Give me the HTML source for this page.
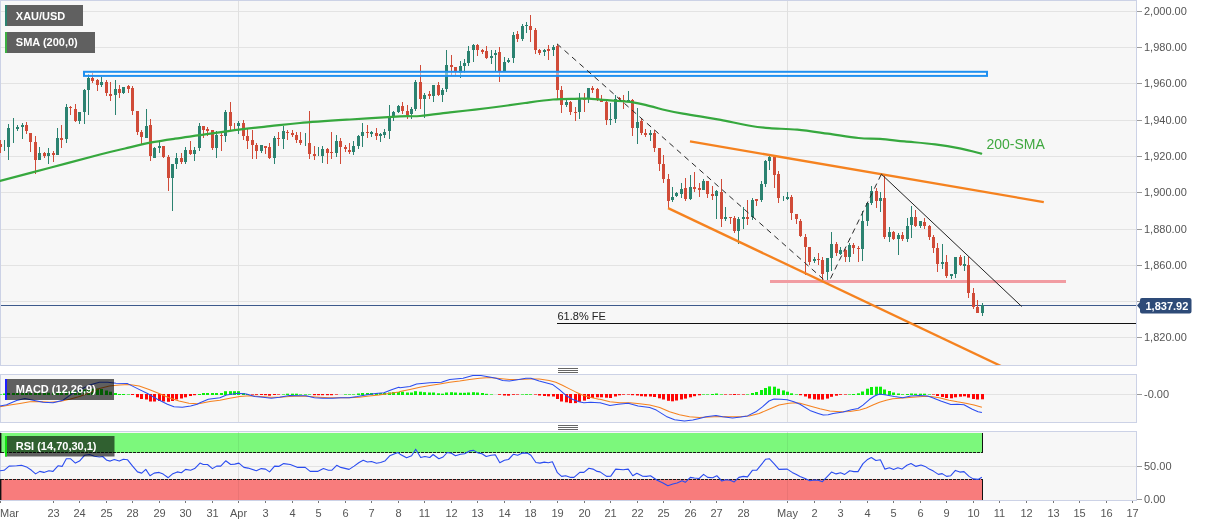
<!DOCTYPE html>
<html><head><meta charset="utf-8"><title>XAU/USD</title>
<style>html,body{margin:0;padding:0;background:#fff}body{width:1207px;height:526px;overflow:hidden}</style>
</head><body>
<svg width="1207" height="526" viewBox="0 0 1207 526" style="display:block;will-change:transform;font-family:'Liberation Sans',Arial,sans-serif">
<rect width="1207" height="526" fill="#fff"/>
<rect x="0.5" y="0.5" width="1136" height="365" fill="#f7f7f7" stroke="#ccd2e6" stroke-width="1"/>
<rect x="0.5" y="374.5" width="1136" height="48" fill="#f7f7f7" stroke="#ccd2e6" stroke-width="1"/>
<rect x="0.5" y="431.5" width="1136" height="69" fill="#f7f7f7" stroke="#ccd2e6" stroke-width="1"/>
<g shape-rendering="crispEdges">
<rect x="1" y="11" width="1135" height="1" fill="#e3e3e3"/>
<rect x="1" y="47" width="1135" height="1" fill="#e3e3e3"/>
<rect x="1" y="83" width="1135" height="1" fill="#e3e3e3"/>
<rect x="1" y="120" width="1135" height="1" fill="#e3e3e3"/>
<rect x="1" y="156" width="1135" height="1" fill="#e3e3e3"/>
<rect x="1" y="192" width="1135" height="1" fill="#e3e3e3"/>
<rect x="1" y="229" width="1135" height="1" fill="#e3e3e3"/>
<rect x="1" y="265" width="1135" height="1" fill="#e3e3e3"/>
<rect x="1" y="301" width="1135" height="1" fill="#e3e3e3"/>
<rect x="1" y="337" width="1135" height="1" fill="#e3e3e3"/>
<rect x="1" y="394" width="1135" height="1" fill="#e3e3e3"/>
<rect x="1" y="466" width="1135" height="1" fill="#e3e3e3"/>
<rect x="238" y="1" width="1" height="364" fill="#e0e0e0"/>
<rect x="238" y="375" width="1" height="47" fill="#e0e0e0"/>
<rect x="238" y="432" width="1" height="68" fill="#e0e0e0"/>
<rect x="787" y="1" width="1" height="364" fill="#e0e0e0"/>
<rect x="787" y="375" width="1" height="47" fill="#e0e0e0"/>
<rect x="787" y="432" width="1" height="68" fill="#e0e0e0"/>
</g>
<clipPath id="c1"><rect x="0" y="1" width="1136" height="364"/></clipPath>
<g clip-path="url(#c1)">
<g shape-rendering="crispEdges">
<rect x="770" y="280" width="296" height="3" fill="#f19ca2"/>
<rect x="1" y="305" width="1135" height="1" fill="#3d5a8c"/>
<rect x="557" y="323" width="579" height="1" fill="#111"/>
</g>
<g shape-rendering="crispEdges">
<rect x="0" y="140" width="1" height="13" fill="#d04b38"/>
<rect x="-1" y="144" width="3" height="3" fill="#d04b38"/>
<rect x="4" y="140" width="1" height="11" fill="#2b8270"/>
<rect x="8" y="124" width="1" height="36" fill="#2b8270"/>
<rect x="7" y="128" width="3" height="19" fill="#2b8270"/>
<rect x="13" y="118" width="1" height="25" fill="#2b8270"/>
<rect x="17" y="125" width="1" height="6" fill="#2b8270"/>
<rect x="16" y="127" width="3" height="2" fill="#2b8270"/>
<rect x="22" y="123" width="1" height="16" fill="#2b8270"/>
<rect x="21" y="125" width="3" height="2" fill="#2b8270"/>
<rect x="26" y="122" width="1" height="12" fill="#d04b38"/>
<rect x="25" y="125" width="3" height="6" fill="#d04b38"/>
<rect x="30" y="133" width="1" height="19" fill="#d04b38"/>
<rect x="29" y="133" width="3" height="9" fill="#d04b38"/>
<rect x="35" y="136" width="1" height="38" fill="#d04b38"/>
<rect x="34" y="142" width="3" height="18" fill="#d04b38"/>
<rect x="39" y="147" width="1" height="13" fill="#2b8270"/>
<rect x="38" y="153" width="3" height="7" fill="#2b8270"/>
<rect x="44" y="152" width="1" height="6" fill="#d04b38"/>
<rect x="43" y="153" width="3" height="3" fill="#d04b38"/>
<rect x="48" y="148" width="1" height="16" fill="#2b8270"/>
<rect x="47" y="153" width="3" height="3" fill="#2b8270"/>
<rect x="53" y="151" width="1" height="11" fill="#d04b38"/>
<rect x="52" y="153" width="3" height="2" fill="#d04b38"/>
<rect x="57" y="128" width="1" height="27" fill="#2b8270"/>
<rect x="56" y="138" width="3" height="17" fill="#2b8270"/>
<rect x="61" y="125" width="1" height="23" fill="#d04b38"/>
<rect x="60" y="138" width="3" height="2" fill="#d04b38"/>
<rect x="66" y="104" width="1" height="39" fill="#2b8270"/>
<rect x="65" y="107" width="3" height="32" fill="#2b8270"/>
<rect x="70" y="106" width="1" height="9" fill="#d04b38"/>
<rect x="69" y="107" width="3" height="1" fill="#d04b38"/>
<rect x="75" y="104" width="1" height="18" fill="#d04b38"/>
<rect x="74" y="109" width="3" height="12" fill="#d04b38"/>
<rect x="79" y="112" width="1" height="12" fill="#2b8270"/>
<rect x="78" y="112" width="3" height="9" fill="#2b8270"/>
<rect x="84" y="89" width="1" height="35" fill="#2b8270"/>
<rect x="83" y="90" width="3" height="22" fill="#2b8270"/>
<rect x="88" y="74" width="1" height="41" fill="#2b8270"/>
<rect x="87" y="78" width="3" height="12" fill="#2b8270"/>
<rect x="92" y="73" width="1" height="10" fill="#d04b38"/>
<rect x="91" y="78" width="3" height="3" fill="#d04b38"/>
<rect x="97" y="79" width="1" height="12" fill="#d04b38"/>
<rect x="96" y="80" width="3" height="5" fill="#d04b38"/>
<rect x="101" y="77" width="1" height="10" fill="#2b8270"/>
<rect x="100" y="82" width="3" height="3" fill="#2b8270"/>
<rect x="106" y="80" width="1" height="16" fill="#d04b38"/>
<rect x="105" y="82" width="3" height="11" fill="#d04b38"/>
<rect x="110" y="82" width="1" height="19" fill="#d04b38"/>
<rect x="109" y="94" width="3" height="2" fill="#d04b38"/>
<rect x="115" y="80" width="1" height="35" fill="#2b8270"/>
<rect x="114" y="89" width="3" height="6" fill="#2b8270"/>
<rect x="119" y="85" width="1" height="13" fill="#d04b38"/>
<rect x="118" y="89" width="3" height="4" fill="#d04b38"/>
<rect x="123" y="87" width="1" height="7" fill="#2b8270"/>
<rect x="122" y="87" width="3" height="6" fill="#2b8270"/>
<rect x="128" y="85" width="1" height="8" fill="#d04b38"/>
<rect x="127" y="86" width="3" height="3" fill="#d04b38"/>
<rect x="132" y="86" width="1" height="29" fill="#d04b38"/>
<rect x="131" y="88" width="3" height="23" fill="#d04b38"/>
<rect x="137" y="111" width="1" height="24" fill="#d04b38"/>
<rect x="136" y="111" width="3" height="21" fill="#d04b38"/>
<rect x="141" y="130" width="1" height="14" fill="#d04b38"/>
<rect x="140" y="132" width="3" height="5" fill="#d04b38"/>
<rect x="146" y="109" width="1" height="29" fill="#2b8270"/>
<rect x="145" y="126" width="3" height="12" fill="#2b8270"/>
<rect x="150" y="119" width="1" height="42" fill="#d04b38"/>
<rect x="149" y="125" width="3" height="31" fill="#d04b38"/>
<rect x="154" y="147" width="1" height="11" fill="#2b8270"/>
<rect x="153" y="148" width="3" height="10" fill="#2b8270"/>
<rect x="159" y="140" width="1" height="13" fill="#2b8270"/>
<rect x="158" y="146" width="3" height="2" fill="#2b8270"/>
<rect x="163" y="146" width="1" height="12" fill="#d04b38"/>
<rect x="162" y="146" width="3" height="11" fill="#d04b38"/>
<rect x="168" y="155" width="1" height="36" fill="#d04b38"/>
<rect x="167" y="157" width="3" height="21" fill="#d04b38"/>
<rect x="172" y="164" width="1" height="47" fill="#2b8270"/>
<rect x="171" y="164" width="3" height="14" fill="#2b8270"/>
<rect x="176" y="153" width="1" height="16" fill="#2b8270"/>
<rect x="175" y="158" width="3" height="6" fill="#2b8270"/>
<rect x="181" y="153" width="1" height="11" fill="#d04b38"/>
<rect x="180" y="158" width="3" height="4" fill="#d04b38"/>
<rect x="185" y="147" width="1" height="17" fill="#2b8270"/>
<rect x="184" y="150" width="3" height="12" fill="#2b8270"/>
<rect x="190" y="141" width="1" height="14" fill="#d04b38"/>
<rect x="189" y="150" width="3" height="4" fill="#d04b38"/>
<rect x="194" y="147" width="1" height="14" fill="#2b8270"/>
<rect x="193" y="150" width="3" height="4" fill="#2b8270"/>
<rect x="199" y="123" width="1" height="28" fill="#2b8270"/>
<rect x="198" y="126" width="3" height="22" fill="#2b8270"/>
<rect x="203" y="126" width="1" height="12" fill="#d04b38"/>
<rect x="202" y="126" width="3" height="4" fill="#d04b38"/>
<rect x="207" y="127" width="1" height="9" fill="#d04b38"/>
<rect x="206" y="129" width="3" height="2" fill="#d04b38"/>
<rect x="212" y="130" width="1" height="20" fill="#d04b38"/>
<rect x="211" y="130" width="3" height="18" fill="#d04b38"/>
<rect x="216" y="131" width="1" height="27" fill="#2b8270"/>
<rect x="215" y="135" width="3" height="13" fill="#2b8270"/>
<rect x="221" y="133" width="1" height="18" fill="#d04b38"/>
<rect x="220" y="135" width="3" height="1" fill="#d04b38"/>
<rect x="225" y="110" width="1" height="32" fill="#2b8270"/>
<rect x="224" y="112" width="3" height="24" fill="#2b8270"/>
<rect x="230" y="102" width="1" height="28" fill="#d04b38"/>
<rect x="229" y="112" width="3" height="14" fill="#d04b38"/>
<rect x="234" y="123" width="1" height="7" fill="#d04b38"/>
<rect x="238" y="121" width="1" height="13" fill="#2b8270"/>
<rect x="237" y="123" width="3" height="3" fill="#2b8270"/>
<rect x="243" y="120" width="1" height="20" fill="#d04b38"/>
<rect x="242" y="123" width="3" height="13" fill="#d04b38"/>
<rect x="247" y="129" width="1" height="20" fill="#d04b38"/>
<rect x="246" y="136" width="3" height="5" fill="#d04b38"/>
<rect x="252" y="130" width="1" height="29" fill="#d04b38"/>
<rect x="251" y="140" width="3" height="5" fill="#d04b38"/>
<rect x="256" y="143" width="1" height="16" fill="#d04b38"/>
<rect x="255" y="145" width="3" height="6" fill="#d04b38"/>
<rect x="261" y="145" width="1" height="8" fill="#2b8270"/>
<rect x="260" y="145" width="3" height="6" fill="#2b8270"/>
<rect x="265" y="146" width="1" height="8" fill="#d04b38"/>
<rect x="264" y="146" width="3" height="2" fill="#d04b38"/>
<rect x="269" y="143" width="1" height="16" fill="#d04b38"/>
<rect x="268" y="147" width="3" height="11" fill="#d04b38"/>
<rect x="274" y="136" width="1" height="28" fill="#2b8270"/>
<rect x="273" y="138" width="3" height="20" fill="#2b8270"/>
<rect x="278" y="132" width="1" height="14" fill="#d04b38"/>
<rect x="277" y="138" width="3" height="1" fill="#d04b38"/>
<rect x="283" y="126" width="1" height="23" fill="#2b8270"/>
<rect x="282" y="131" width="3" height="8" fill="#2b8270"/>
<rect x="287" y="130" width="1" height="10" fill="#d04b38"/>
<rect x="286" y="132" width="3" height="1" fill="#d04b38"/>
<rect x="292" y="130" width="1" height="7" fill="#d04b38"/>
<rect x="291" y="133" width="3" height="2" fill="#d04b38"/>
<rect x="296" y="132" width="1" height="11" fill="#d04b38"/>
<rect x="295" y="135" width="3" height="5" fill="#d04b38"/>
<rect x="300" y="132" width="1" height="13" fill="#d04b38"/>
<rect x="299" y="140" width="3" height="3" fill="#d04b38"/>
<rect x="305" y="133" width="1" height="13" fill="#2b8270"/>
<rect x="309" y="111" width="1" height="48" fill="#d04b38"/>
<rect x="308" y="143" width="3" height="11" fill="#d04b38"/>
<rect x="314" y="146" width="1" height="14" fill="#d04b38"/>
<rect x="313" y="154" width="3" height="2" fill="#d04b38"/>
<rect x="318" y="147" width="1" height="9" fill="#2b8270"/>
<rect x="322" y="146" width="1" height="17" fill="#2b8270"/>
<rect x="321" y="149" width="3" height="7" fill="#2b8270"/>
<rect x="327" y="148" width="1" height="16" fill="#d04b38"/>
<rect x="326" y="149" width="3" height="4" fill="#d04b38"/>
<rect x="331" y="132" width="1" height="27" fill="#d04b38"/>
<rect x="330" y="152" width="3" height="1" fill="#d04b38"/>
<rect x="336" y="135" width="1" height="22" fill="#2b8270"/>
<rect x="335" y="141" width="3" height="12" fill="#2b8270"/>
<rect x="340" y="138" width="1" height="26" fill="#d04b38"/>
<rect x="339" y="141" width="3" height="6" fill="#d04b38"/>
<rect x="345" y="145" width="1" height="7" fill="#d04b38"/>
<rect x="344" y="147" width="3" height="2" fill="#d04b38"/>
<rect x="349" y="143" width="1" height="11" fill="#d04b38"/>
<rect x="348" y="150" width="3" height="2" fill="#d04b38"/>
<rect x="353" y="141" width="1" height="14" fill="#2b8270"/>
<rect x="352" y="146" width="3" height="6" fill="#2b8270"/>
<rect x="358" y="135" width="1" height="14" fill="#2b8270"/>
<rect x="357" y="136" width="3" height="10" fill="#2b8270"/>
<rect x="362" y="123" width="1" height="24" fill="#2b8270"/>
<rect x="361" y="132" width="3" height="4" fill="#2b8270"/>
<rect x="367" y="125" width="1" height="13" fill="#d04b38"/>
<rect x="366" y="132" width="3" height="1" fill="#d04b38"/>
<rect x="371" y="131" width="1" height="6" fill="#2b8270"/>
<rect x="370" y="132" width="3" height="2" fill="#2b8270"/>
<rect x="376" y="128" width="1" height="12" fill="#d04b38"/>
<rect x="375" y="133" width="3" height="3" fill="#d04b38"/>
<rect x="380" y="133" width="1" height="9" fill="#2b8270"/>
<rect x="379" y="134" width="3" height="2" fill="#2b8270"/>
<rect x="384" y="129" width="1" height="9" fill="#2b8270"/>
<rect x="383" y="132" width="3" height="3" fill="#2b8270"/>
<rect x="389" y="105" width="1" height="34" fill="#2b8270"/>
<rect x="388" y="116" width="3" height="15" fill="#2b8270"/>
<rect x="393" y="111" width="1" height="10" fill="#2b8270"/>
<rect x="392" y="112" width="3" height="4" fill="#2b8270"/>
<rect x="398" y="105" width="1" height="8" fill="#2b8270"/>
<rect x="397" y="106" width="3" height="6" fill="#2b8270"/>
<rect x="402" y="102" width="1" height="12" fill="#d04b38"/>
<rect x="401" y="106" width="3" height="5" fill="#d04b38"/>
<rect x="407" y="105" width="1" height="14" fill="#d04b38"/>
<rect x="406" y="111" width="3" height="4" fill="#d04b38"/>
<rect x="411" y="107" width="1" height="12" fill="#2b8270"/>
<rect x="410" y="109" width="3" height="5" fill="#2b8270"/>
<rect x="415" y="80" width="1" height="31" fill="#2b8270"/>
<rect x="414" y="82" width="3" height="27" fill="#2b8270"/>
<rect x="420" y="65" width="1" height="44" fill="#d04b38"/>
<rect x="419" y="82" width="3" height="17" fill="#d04b38"/>
<rect x="424" y="93" width="1" height="25" fill="#2b8270"/>
<rect x="423" y="95" width="3" height="4" fill="#2b8270"/>
<rect x="429" y="91" width="1" height="8" fill="#d04b38"/>
<rect x="428" y="94" width="3" height="2" fill="#d04b38"/>
<rect x="433" y="85" width="1" height="17" fill="#2b8270"/>
<rect x="432" y="85" width="3" height="11" fill="#2b8270"/>
<rect x="438" y="82" width="1" height="14" fill="#d04b38"/>
<rect x="437" y="85" width="3" height="10" fill="#d04b38"/>
<rect x="442" y="88" width="1" height="14" fill="#2b8270"/>
<rect x="441" y="90" width="3" height="5" fill="#2b8270"/>
<rect x="446" y="50" width="1" height="42" fill="#2b8270"/>
<rect x="445" y="65" width="3" height="24" fill="#2b8270"/>
<rect x="451" y="55" width="1" height="20" fill="#d04b38"/>
<rect x="450" y="65" width="3" height="2" fill="#d04b38"/>
<rect x="455" y="67" width="1" height="8" fill="#d04b38"/>
<rect x="454" y="67" width="3" height="4" fill="#d04b38"/>
<rect x="460" y="61" width="1" height="17" fill="#2b8270"/>
<rect x="459" y="66" width="3" height="7" fill="#2b8270"/>
<rect x="464" y="59" width="1" height="14" fill="#2b8270"/>
<rect x="463" y="63" width="3" height="3" fill="#2b8270"/>
<rect x="468" y="46" width="1" height="20" fill="#2b8270"/>
<rect x="467" y="51" width="3" height="12" fill="#2b8270"/>
<rect x="473" y="44" width="1" height="18" fill="#2b8270"/>
<rect x="472" y="45" width="3" height="5" fill="#2b8270"/>
<rect x="477" y="44" width="1" height="12" fill="#d04b38"/>
<rect x="476" y="45" width="3" height="5" fill="#d04b38"/>
<rect x="482" y="49" width="1" height="5" fill="#d04b38"/>
<rect x="481" y="50" width="3" height="2" fill="#d04b38"/>
<rect x="486" y="46" width="1" height="13" fill="#d04b38"/>
<rect x="485" y="51" width="3" height="7" fill="#d04b38"/>
<rect x="491" y="50" width="1" height="14" fill="#2b8270"/>
<rect x="490" y="56" width="3" height="2" fill="#2b8270"/>
<rect x="495" y="50" width="1" height="21" fill="#2b8270"/>
<rect x="494" y="53" width="3" height="2" fill="#2b8270"/>
<rect x="499" y="47" width="1" height="35" fill="#d04b38"/>
<rect x="498" y="52" width="3" height="19" fill="#d04b38"/>
<rect x="504" y="57" width="1" height="14" fill="#2b8270"/>
<rect x="503" y="62" width="3" height="9" fill="#2b8270"/>
<rect x="508" y="58" width="1" height="5" fill="#2b8270"/>
<rect x="507" y="60" width="3" height="2" fill="#2b8270"/>
<rect x="513" y="32" width="1" height="31" fill="#2b8270"/>
<rect x="512" y="35" width="3" height="23" fill="#2b8270"/>
<rect x="517" y="31" width="1" height="11" fill="#d04b38"/>
<rect x="516" y="34" width="3" height="5" fill="#d04b38"/>
<rect x="522" y="24" width="1" height="17" fill="#2b8270"/>
<rect x="521" y="26" width="3" height="13" fill="#2b8270"/>
<rect x="526" y="22" width="1" height="11" fill="#2b8270"/>
<rect x="525" y="25" width="3" height="1" fill="#2b8270"/>
<rect x="530" y="15" width="1" height="27" fill="#d04b38"/>
<rect x="529" y="26" width="3" height="4" fill="#d04b38"/>
<rect x="535" y="28" width="1" height="26" fill="#d04b38"/>
<rect x="534" y="30" width="3" height="20" fill="#d04b38"/>
<rect x="539" y="49" width="1" height="6" fill="#d04b38"/>
<rect x="538" y="50" width="3" height="3" fill="#d04b38"/>
<rect x="544" y="49" width="1" height="7" fill="#2b8270"/>
<rect x="543" y="50" width="3" height="2" fill="#2b8270"/>
<rect x="548" y="45" width="1" height="15" fill="#d04b38"/>
<rect x="547" y="49" width="3" height="2" fill="#d04b38"/>
<rect x="553" y="45" width="1" height="11" fill="#2b8270"/>
<rect x="552" y="47" width="3" height="3" fill="#2b8270"/>
<rect x="557" y="44" width="1" height="56" fill="#d04b38"/>
<rect x="556" y="46" width="3" height="44" fill="#d04b38"/>
<rect x="561" y="86" width="1" height="27" fill="#d04b38"/>
<rect x="560" y="90" width="3" height="15" fill="#d04b38"/>
<rect x="566" y="100" width="1" height="7" fill="#2b8270"/>
<rect x="565" y="102" width="3" height="3" fill="#2b8270"/>
<rect x="570" y="101" width="1" height="14" fill="#d04b38"/>
<rect x="569" y="102" width="3" height="10" fill="#d04b38"/>
<rect x="575" y="107" width="1" height="14" fill="#d04b38"/>
<rect x="574" y="112" width="3" height="1" fill="#d04b38"/>
<rect x="579" y="93" width="1" height="26" fill="#2b8270"/>
<rect x="578" y="98" width="3" height="14" fill="#2b8270"/>
<rect x="584" y="93" width="1" height="19" fill="#d04b38"/>
<rect x="583" y="98" width="3" height="2" fill="#d04b38"/>
<rect x="588" y="88" width="1" height="15" fill="#2b8270"/>
<rect x="587" y="88" width="3" height="11" fill="#2b8270"/>
<rect x="592" y="86" width="1" height="7" fill="#d04b38"/>
<rect x="591" y="88" width="3" height="2" fill="#d04b38"/>
<rect x="597" y="88" width="1" height="13" fill="#d04b38"/>
<rect x="596" y="89" width="3" height="10" fill="#d04b38"/>
<rect x="601" y="95" width="1" height="7" fill="#d04b38"/>
<rect x="600" y="100" width="3" height="2" fill="#d04b38"/>
<rect x="606" y="101" width="1" height="24" fill="#d04b38"/>
<rect x="605" y="102" width="3" height="18" fill="#d04b38"/>
<rect x="610" y="103" width="1" height="22" fill="#2b8270"/>
<rect x="609" y="119" width="3" height="1" fill="#2b8270"/>
<rect x="615" y="95" width="1" height="28" fill="#2b8270"/>
<rect x="614" y="99" width="3" height="20" fill="#2b8270"/>
<rect x="619" y="97" width="1" height="4" fill="#d04b38"/>
<rect x="618" y="98" width="3" height="1" fill="#d04b38"/>
<rect x="623" y="95" width="1" height="14" fill="#d04b38"/>
<rect x="622" y="100" width="3" height="1" fill="#d04b38"/>
<rect x="628" y="91" width="1" height="11" fill="#2b8270"/>
<rect x="627" y="100" width="3" height="1" fill="#2b8270"/>
<rect x="632" y="99" width="1" height="37" fill="#d04b38"/>
<rect x="631" y="100" width="3" height="28" fill="#d04b38"/>
<rect x="637" y="108" width="1" height="36" fill="#2b8270"/>
<rect x="636" y="122" width="3" height="6" fill="#2b8270"/>
<rect x="641" y="119" width="1" height="16" fill="#d04b38"/>
<rect x="640" y="121" width="3" height="12" fill="#d04b38"/>
<rect x="645" y="129" width="1" height="8" fill="#d04b38"/>
<rect x="644" y="133" width="3" height="2" fill="#d04b38"/>
<rect x="650" y="130" width="1" height="11" fill="#2b8270"/>
<rect x="649" y="133" width="3" height="2" fill="#2b8270"/>
<rect x="654" y="130" width="1" height="22" fill="#d04b38"/>
<rect x="653" y="133" width="3" height="15" fill="#d04b38"/>
<rect x="659" y="148" width="1" height="23" fill="#d04b38"/>
<rect x="658" y="148" width="3" height="16" fill="#d04b38"/>
<rect x="663" y="155" width="1" height="28" fill="#d04b38"/>
<rect x="662" y="164" width="3" height="15" fill="#d04b38"/>
<rect x="668" y="174" width="1" height="34" fill="#d04b38"/>
<rect x="667" y="179" width="3" height="22" fill="#d04b38"/>
<rect x="672" y="187" width="1" height="15" fill="#2b8270"/>
<rect x="671" y="197" width="3" height="3" fill="#2b8270"/>
<rect x="676" y="192" width="1" height="5" fill="#2b8270"/>
<rect x="675" y="193" width="3" height="3" fill="#2b8270"/>
<rect x="681" y="183" width="1" height="15" fill="#2b8270"/>
<rect x="680" y="189" width="3" height="5" fill="#2b8270"/>
<rect x="685" y="178" width="1" height="23" fill="#d04b38"/>
<rect x="684" y="188" width="3" height="11" fill="#d04b38"/>
<rect x="690" y="175" width="1" height="25" fill="#2b8270"/>
<rect x="689" y="187" width="3" height="12" fill="#2b8270"/>
<rect x="694" y="172" width="1" height="20" fill="#d04b38"/>
<rect x="693" y="187" width="3" height="2" fill="#d04b38"/>
<rect x="699" y="183" width="1" height="14" fill="#d04b38"/>
<rect x="698" y="188" width="3" height="2" fill="#d04b38"/>
<rect x="703" y="179" width="1" height="11" fill="#2b8270"/>
<rect x="702" y="181" width="3" height="9" fill="#2b8270"/>
<rect x="707" y="181" width="1" height="17" fill="#d04b38"/>
<rect x="706" y="181" width="3" height="13" fill="#d04b38"/>
<rect x="712" y="186" width="1" height="14" fill="#d04b38"/>
<rect x="711" y="194" width="3" height="2" fill="#d04b38"/>
<rect x="716" y="190" width="1" height="29" fill="#2b8270"/>
<rect x="715" y="191" width="3" height="5" fill="#2b8270"/>
<rect x="721" y="179" width="1" height="48" fill="#d04b38"/>
<rect x="720" y="192" width="3" height="27" fill="#d04b38"/>
<rect x="725" y="207" width="1" height="14" fill="#2b8270"/>
<rect x="724" y="217" width="3" height="2" fill="#2b8270"/>
<rect x="730" y="217" width="1" height="7" fill="#d04b38"/>
<rect x="729" y="217" width="3" height="1" fill="#d04b38"/>
<rect x="734" y="216" width="1" height="17" fill="#d04b38"/>
<rect x="733" y="218" width="3" height="13" fill="#d04b38"/>
<rect x="738" y="217" width="1" height="27" fill="#2b8270"/>
<rect x="737" y="219" width="3" height="12" fill="#2b8270"/>
<rect x="743" y="207" width="1" height="22" fill="#2b8270"/>
<rect x="742" y="217" width="3" height="2" fill="#2b8270"/>
<rect x="747" y="200" width="1" height="25" fill="#d04b38"/>
<rect x="746" y="217" width="3" height="2" fill="#d04b38"/>
<rect x="752" y="198" width="1" height="22" fill="#2b8270"/>
<rect x="751" y="200" width="3" height="17" fill="#2b8270"/>
<rect x="756" y="199" width="1" height="7" fill="#d04b38"/>
<rect x="755" y="199" width="3" height="2" fill="#d04b38"/>
<rect x="761" y="181" width="1" height="21" fill="#2b8270"/>
<rect x="760" y="184" width="3" height="16" fill="#2b8270"/>
<rect x="765" y="160" width="1" height="27" fill="#2b8270"/>
<rect x="764" y="161" width="3" height="23" fill="#2b8270"/>
<rect x="769" y="156" width="1" height="14" fill="#2b8270"/>
<rect x="768" y="157" width="3" height="4" fill="#2b8270"/>
<rect x="774" y="157" width="1" height="31" fill="#d04b38"/>
<rect x="773" y="157" width="3" height="18" fill="#d04b38"/>
<rect x="778" y="171" width="1" height="32" fill="#d04b38"/>
<rect x="777" y="174" width="3" height="24" fill="#d04b38"/>
<rect x="783" y="196" width="1" height="5" fill="#2b8270"/>
<rect x="787" y="192" width="1" height="8" fill="#2b8270"/>
<rect x="786" y="197" width="3" height="2" fill="#2b8270"/>
<rect x="791" y="195" width="1" height="25" fill="#d04b38"/>
<rect x="790" y="197" width="3" height="16" fill="#d04b38"/>
<rect x="796" y="214" width="1" height="10" fill="#d04b38"/>
<rect x="795" y="214" width="3" height="5" fill="#d04b38"/>
<rect x="800" y="219" width="1" height="18" fill="#d04b38"/>
<rect x="799" y="221" width="3" height="15" fill="#d04b38"/>
<rect x="805" y="234" width="1" height="41" fill="#d04b38"/>
<rect x="804" y="237" width="3" height="10" fill="#d04b38"/>
<rect x="809" y="247" width="1" height="18" fill="#d04b38"/>
<rect x="808" y="247" width="3" height="15" fill="#d04b38"/>
<rect x="814" y="257" width="1" height="6" fill="#2b8270"/>
<rect x="813" y="259" width="3" height="2" fill="#2b8270"/>
<rect x="818" y="253" width="1" height="12" fill="#d04b38"/>
<rect x="817" y="259" width="3" height="1" fill="#d04b38"/>
<rect x="822" y="257" width="1" height="23" fill="#d04b38"/>
<rect x="821" y="260" width="3" height="14" fill="#d04b38"/>
<rect x="827" y="258" width="1" height="22" fill="#2b8270"/>
<rect x="826" y="258" width="3" height="14" fill="#2b8270"/>
<rect x="831" y="232" width="1" height="39" fill="#2b8270"/>
<rect x="830" y="244" width="3" height="14" fill="#2b8270"/>
<rect x="836" y="242" width="1" height="14" fill="#d04b38"/>
<rect x="835" y="244" width="3" height="9" fill="#d04b38"/>
<rect x="840" y="247" width="1" height="8" fill="#2b8270"/>
<rect x="839" y="250" width="3" height="4" fill="#2b8270"/>
<rect x="845" y="249" width="1" height="13" fill="#d04b38"/>
<rect x="844" y="250" width="3" height="7" fill="#d04b38"/>
<rect x="849" y="243" width="1" height="19" fill="#2b8270"/>
<rect x="848" y="245" width="3" height="12" fill="#2b8270"/>
<rect x="853" y="243" width="1" height="11" fill="#d04b38"/>
<rect x="852" y="245" width="3" height="3" fill="#d04b38"/>
<rect x="858" y="246" width="1" height="16" fill="#d04b38"/>
<rect x="857" y="248" width="3" height="1" fill="#d04b38"/>
<rect x="862" y="211" width="1" height="50" fill="#2b8270"/>
<rect x="861" y="221" width="3" height="28" fill="#2b8270"/>
<rect x="867" y="203" width="1" height="23" fill="#2b8270"/>
<rect x="866" y="203" width="3" height="18" fill="#2b8270"/>
<rect x="871" y="186" width="1" height="19" fill="#2b8270"/>
<rect x="870" y="191" width="3" height="12" fill="#2b8270"/>
<rect x="876" y="188" width="1" height="20" fill="#d04b38"/>
<rect x="875" y="191" width="3" height="10" fill="#d04b38"/>
<rect x="880" y="192" width="1" height="20" fill="#2b8270"/>
<rect x="879" y="198" width="3" height="3" fill="#2b8270"/>
<rect x="884" y="175" width="1" height="64" fill="#d04b38"/>
<rect x="883" y="198" width="3" height="39" fill="#d04b38"/>
<rect x="889" y="227" width="1" height="15" fill="#2b8270"/>
<rect x="888" y="232" width="3" height="5" fill="#2b8270"/>
<rect x="893" y="231" width="1" height="9" fill="#d04b38"/>
<rect x="892" y="232" width="3" height="7" fill="#d04b38"/>
<rect x="898" y="233" width="1" height="22" fill="#2b8270"/>
<rect x="897" y="235" width="3" height="4" fill="#2b8270"/>
<rect x="902" y="232" width="1" height="9" fill="#d04b38"/>
<rect x="901" y="235" width="3" height="4" fill="#d04b38"/>
<rect x="907" y="218" width="1" height="24" fill="#2b8270"/>
<rect x="906" y="226" width="3" height="13" fill="#2b8270"/>
<rect x="911" y="206" width="1" height="32" fill="#2b8270"/>
<rect x="910" y="217" width="3" height="8" fill="#2b8270"/>
<rect x="915" y="210" width="1" height="17" fill="#d04b38"/>
<rect x="914" y="217" width="3" height="9" fill="#d04b38"/>
<rect x="920" y="221" width="1" height="7" fill="#2b8270"/>
<rect x="919" y="221" width="3" height="5" fill="#2b8270"/>
<rect x="924" y="218" width="1" height="11" fill="#d04b38"/>
<rect x="923" y="222" width="3" height="4" fill="#d04b38"/>
<rect x="929" y="225" width="1" height="15" fill="#d04b38"/>
<rect x="928" y="226" width="3" height="11" fill="#d04b38"/>
<rect x="933" y="235" width="1" height="18" fill="#d04b38"/>
<rect x="932" y="237" width="3" height="11" fill="#d04b38"/>
<rect x="937" y="243" width="1" height="29" fill="#d04b38"/>
<rect x="936" y="248" width="3" height="16" fill="#d04b38"/>
<rect x="942" y="244" width="1" height="25" fill="#2b8270"/>
<rect x="941" y="262" width="3" height="2" fill="#2b8270"/>
<rect x="946" y="255" width="1" height="23" fill="#d04b38"/>
<rect x="945" y="262" width="3" height="14" fill="#d04b38"/>
<rect x="951" y="274" width="1" height="5" fill="#2b8270"/>
<rect x="950" y="274" width="3" height="2" fill="#2b8270"/>
<rect x="955" y="257" width="1" height="21" fill="#2b8270"/>
<rect x="954" y="257" width="3" height="17" fill="#2b8270"/>
<rect x="960" y="255" width="1" height="11" fill="#d04b38"/>
<rect x="959" y="257" width="3" height="8" fill="#d04b38"/>
<rect x="964" y="256" width="1" height="15" fill="#2b8270"/>
<rect x="963" y="264" width="3" height="2" fill="#2b8270"/>
<rect x="968" y="257" width="1" height="41" fill="#d04b38"/>
<rect x="967" y="265" width="3" height="28" fill="#d04b38"/>
<rect x="973" y="288" width="1" height="21" fill="#d04b38"/>
<rect x="972" y="293" width="3" height="14" fill="#d04b38"/>
<rect x="977" y="300" width="1" height="13" fill="#d04b38"/>
<rect x="976" y="307" width="3" height="6" fill="#d04b38"/>
<rect x="982" y="303" width="1" height="13" fill="#2b8270"/>
<rect x="981" y="305" width="3" height="8" fill="#2b8270"/>
</g>
<path d="M0.0 181.0 C8.3 178.8 33.3 172.1 50.0 167.7 C66.7 163.3 87.5 157.7 100.0 154.5 C112.5 151.3 116.7 150.5 125.0 148.5 C133.3 146.5 141.7 144.3 150.0 142.7 C158.3 141.1 166.7 139.9 175.0 138.7 C183.3 137.4 189.3 136.7 200.0 135.2 C210.7 133.7 227.3 131.2 239.0 129.7 C250.7 128.2 259.8 127.3 270.0 126.2 C280.2 125.1 286.7 124.1 300.0 123.0 C313.3 121.9 333.3 120.6 350.0 119.5 C366.7 118.4 388.3 117.0 400.0 116.4 C411.7 115.8 411.7 116.7 420.0 116.0 C428.3 115.3 440.8 113.5 450.0 112.4 C459.2 111.3 466.7 110.6 475.0 109.6 C483.3 108.6 491.7 107.6 500.0 106.5 C508.3 105.4 516.2 104.2 525.0 103.0 C533.8 101.8 544.7 100.2 553.0 99.5 C561.3 98.8 569.0 98.9 575.0 98.8 C581.0 98.7 583.2 98.4 589.0 98.7 C594.8 99.0 602.7 99.8 610.0 100.4 C617.3 101.0 626.3 101.3 633.0 102.3 C639.7 103.2 644.5 104.8 650.0 106.1 C655.5 107.4 660.5 109.0 666.0 110.3 C671.5 111.5 677.3 112.6 683.0 113.6 C688.7 114.6 693.7 115.4 700.0 116.4 C706.3 117.5 712.2 118.3 720.7 119.9 C729.2 121.5 743.1 124.6 751.3 126.0 C759.5 127.4 762.0 127.6 769.7 128.2 C777.4 128.8 787.6 128.8 797.3 129.7 C807.0 130.6 817.8 132.3 828.0 133.7 C838.2 135.1 849.9 137.1 858.6 138.0 C867.3 138.9 872.3 138.3 880.0 138.9 C887.7 139.5 895.4 140.5 904.6 141.4 C913.8 142.3 926.0 143.2 935.2 144.4 C944.4 145.6 952.1 146.9 959.8 148.4 C967.5 149.9 977.6 152.7 981.2 153.6" fill="none" stroke="#36a83e" stroke-width="2.2" stroke-linecap="round"/>
<rect x="84" y="71.8" width="903" height="4.1" fill="#ffffff" fill-opacity="0.5" stroke="#2090f0" stroke-width="2"/>
<line x1="690" y1="141.4" x2="1043.8" y2="202.1" stroke="#f5821f" stroke-width="2.3"/>
<line x1="668.1" y1="208.1" x2="1002" y2="366.53554999999994" stroke="#f5821f" stroke-width="2.3"/>
<line x1="557" y1="43.8" x2="823.5" y2="279.3" stroke="#2a2a2a" stroke-width="1.0" stroke-dasharray="5.6 4.4"/>
<line x1="830.5" y1="278.5" x2="881.2" y2="174.5" stroke="#2a2a2a" stroke-width="1.0" stroke-dasharray="5.6 4.4"/>
<line x1="881.2" y1="174" x2="1021.7" y2="306.5" stroke="#222" stroke-width="1"/>
<text x="557.5" y="320" font-size="11" fill="#222">61.8% FE</text>
<text x="986.5" y="149.2" font-size="14" fill="#3fa83f">200-SMA</text>
</g>
<clipPath id="c2"><rect x="0" y="375" width="1136" height="47"/></clipPath>
<g clip-path="url(#c2)">
<g>
<rect x="-1" y="394.4" width="3" height="0.6" fill="#0aee0a"/>
<rect x="3" y="393.5" width="3" height="1.5" fill="#0aee0a"/>
<rect x="7" y="393.0" width="3" height="2.0" fill="#0aee0a"/>
<rect x="12" y="393.0" width="3" height="2.0" fill="#0aee0a"/>
<rect x="16" y="393.0" width="3" height="2.0" fill="#0aee0a"/>
<rect x="21" y="393.0" width="3" height="2.0" fill="#0aee0a"/>
<rect x="25" y="393.0" width="3" height="2.0" fill="#0aee0a"/>
<rect x="29" y="393.0" width="3" height="2.0" fill="#0aee0a"/>
<rect x="34" y="393.0" width="3" height="2.0" fill="#0aee0a"/>
<rect x="38" y="393.0" width="3" height="2.0" fill="#0aee0a"/>
<rect x="43" y="393.0" width="3" height="2.0" fill="#0aee0a"/>
<rect x="47" y="392.8" width="3" height="2.2" fill="#0aee0a"/>
<rect x="52" y="392.5" width="3" height="2.5" fill="#0aee0a"/>
<rect x="56" y="392.0" width="3" height="3.0" fill="#0aee0a"/>
<rect x="60" y="391.5" width="3" height="3.5" fill="#0aee0a"/>
<rect x="65" y="391.2" width="3" height="3.8" fill="#0aee0a"/>
<rect x="69" y="391.0" width="3" height="4.0" fill="#0aee0a"/>
<rect x="74" y="390.5" width="3" height="4.5" fill="#0aee0a"/>
<rect x="78" y="390.0" width="3" height="5.0" fill="#0aee0a"/>
<rect x="83" y="389.5" width="3" height="5.5" fill="#0aee0a"/>
<rect x="87" y="389.0" width="3" height="6.0" fill="#0aee0a"/>
<rect x="91" y="388.7" width="3" height="6.3" fill="#0aee0a"/>
<rect x="96" y="388.5" width="3" height="6.5" fill="#0aee0a"/>
<rect x="100" y="389.0" width="3" height="6.0" fill="#0aee0a"/>
<rect x="105" y="390.5" width="3" height="4.5" fill="#0aee0a"/>
<rect x="109" y="391.7" width="3" height="3.3" fill="#0aee0a"/>
<rect x="114" y="393.0" width="3" height="2.0" fill="#0aee0a"/>
<rect x="118" y="394.0" width="3" height="1.0" fill="#0aee0a"/>
<rect x="122" y="394.0" width="3" height="1.0" fill="#0aee0a"/>
<rect x="127" y="394.4" width="3" height="0.6" fill="#0aee0a"/>
<rect x="131" y="394" width="3" height="1.0" fill="#ff0505"/>
<rect x="136" y="394" width="3" height="3.3" fill="#ff0505"/>
<rect x="140" y="394" width="3" height="5.0" fill="#ff0505"/>
<rect x="145" y="394" width="3" height="5.5" fill="#ff0505"/>
<rect x="149" y="394" width="3" height="7.5" fill="#ff0505"/>
<rect x="153" y="394" width="3" height="7.5" fill="#ff0505"/>
<rect x="158" y="394" width="3" height="7.0" fill="#ff0505"/>
<rect x="162" y="394" width="3" height="7.5" fill="#ff0505"/>
<rect x="167" y="394" width="3" height="7.8" fill="#ff0505"/>
<rect x="171" y="394" width="3" height="7.0" fill="#ff0505"/>
<rect x="175" y="394" width="3" height="5.5" fill="#ff0505"/>
<rect x="180" y="394" width="3" height="4.5" fill="#ff0505"/>
<rect x="184" y="394" width="3" height="3.3" fill="#ff0505"/>
<rect x="189" y="394" width="3" height="2.0" fill="#ff0505"/>
<rect x="193" y="394" width="3" height="1.2" fill="#ff0505"/>
<rect x="198" y="394.0" width="3" height="1.0" fill="#0aee0a"/>
<rect x="202" y="393.0" width="3" height="2.0" fill="#0aee0a"/>
<rect x="206" y="393.0" width="3" height="2.0" fill="#0aee0a"/>
<rect x="211" y="393.0" width="3" height="2.0" fill="#0aee0a"/>
<rect x="215" y="393.0" width="3" height="2.0" fill="#0aee0a"/>
<rect x="220" y="393.0" width="3" height="2.0" fill="#0aee0a"/>
<rect x="224" y="391.2" width="3" height="3.8" fill="#0aee0a"/>
<rect x="229" y="391.2" width="3" height="3.8" fill="#0aee0a"/>
<rect x="233" y="391.2" width="3" height="3.8" fill="#0aee0a"/>
<rect x="237" y="391.2" width="3" height="3.8" fill="#0aee0a"/>
<rect x="242" y="393.0" width="3" height="2.0" fill="#0aee0a"/>
<rect x="246" y="394.0" width="3" height="1.0" fill="#0aee0a"/>
<rect x="251" y="394" width="3" height="0.6" fill="#ff0505"/>
<rect x="255" y="394" width="3" height="0.8" fill="#ff0505"/>
<rect x="260" y="394" width="3" height="1.0" fill="#ff0505"/>
<rect x="264" y="394" width="3" height="1.2" fill="#ff0505"/>
<rect x="268" y="394" width="3" height="1.7" fill="#ff0505"/>
<rect x="273" y="394" width="3" height="1.0" fill="#ff0505"/>
<rect x="277" y="394" width="3" height="0.6" fill="#ff0505"/>
<rect x="282" y="394.4" width="3" height="0.6" fill="#0aee0a"/>
<rect x="286" y="393.7" width="3" height="1.3" fill="#0aee0a"/>
<rect x="291" y="393.7" width="3" height="1.3" fill="#0aee0a"/>
<rect x="295" y="393.7" width="3" height="1.3" fill="#0aee0a"/>
<rect x="299" y="394.4" width="3" height="0.6" fill="#0aee0a"/>
<rect x="304" y="394.4" width="3" height="0.6" fill="#0aee0a"/>
<rect x="308" y="394.4" width="3" height="0.6" fill="#0aee0a"/>
<rect x="313" y="394" width="3" height="1.2" fill="#ff0505"/>
<rect x="317" y="394" width="3" height="1.2" fill="#ff0505"/>
<rect x="321" y="394" width="3" height="1.2" fill="#ff0505"/>
<rect x="326" y="394" width="3" height="1.2" fill="#ff0505"/>
<rect x="330" y="394" width="3" height="1.2" fill="#ff0505"/>
<rect x="335" y="394" width="3" height="0.6" fill="#ff0505"/>
<rect x="344" y="394.4" width="3" height="0.6" fill="#0aee0a"/>
<rect x="348" y="394.4" width="3" height="0.6" fill="#0aee0a"/>
<rect x="352" y="394.4" width="3" height="0.6" fill="#0aee0a"/>
<rect x="357" y="393.5" width="3" height="1.5" fill="#0aee0a"/>
<rect x="361" y="393.0" width="3" height="2.0" fill="#0aee0a"/>
<rect x="366" y="393.0" width="3" height="2.0" fill="#0aee0a"/>
<rect x="370" y="393.0" width="3" height="2.0" fill="#0aee0a"/>
<rect x="375" y="393.0" width="3" height="2.0" fill="#0aee0a"/>
<rect x="379" y="393.0" width="3" height="2.0" fill="#0aee0a"/>
<rect x="383" y="393.0" width="3" height="2.0" fill="#0aee0a"/>
<rect x="388" y="392.5" width="3" height="2.5" fill="#0aee0a"/>
<rect x="392" y="392.0" width="3" height="3.0" fill="#0aee0a"/>
<rect x="397" y="392.0" width="3" height="3.0" fill="#0aee0a"/>
<rect x="401" y="391.7" width="3" height="3.3" fill="#0aee0a"/>
<rect x="406" y="392.5" width="3" height="2.5" fill="#0aee0a"/>
<rect x="410" y="392.5" width="3" height="2.5" fill="#0aee0a"/>
<rect x="414" y="391.2" width="3" height="3.8" fill="#0aee0a"/>
<rect x="419" y="391.7" width="3" height="3.3" fill="#0aee0a"/>
<rect x="423" y="392.2" width="3" height="2.8" fill="#0aee0a"/>
<rect x="428" y="392.5" width="3" height="2.5" fill="#0aee0a"/>
<rect x="432" y="392.5" width="3" height="2.5" fill="#0aee0a"/>
<rect x="437" y="393.3" width="3" height="1.7" fill="#0aee0a"/>
<rect x="441" y="393.7" width="3" height="1.3" fill="#0aee0a"/>
<rect x="445" y="392.5" width="3" height="2.5" fill="#0aee0a"/>
<rect x="450" y="392.2" width="3" height="2.8" fill="#0aee0a"/>
<rect x="454" y="392.5" width="3" height="2.5" fill="#0aee0a"/>
<rect x="459" y="392.8" width="3" height="2.2" fill="#0aee0a"/>
<rect x="463" y="392.8" width="3" height="2.2" fill="#0aee0a"/>
<rect x="467" y="392.5" width="3" height="2.5" fill="#0aee0a"/>
<rect x="472" y="392.2" width="3" height="2.8" fill="#0aee0a"/>
<rect x="476" y="392.5" width="3" height="2.5" fill="#0aee0a"/>
<rect x="481" y="393.0" width="3" height="2.0" fill="#0aee0a"/>
<rect x="485" y="393.8" width="3" height="1.2" fill="#0aee0a"/>
<rect x="490" y="394.4" width="3" height="0.6" fill="#0aee0a"/>
<rect x="498" y="394" width="3" height="0.8" fill="#ff0505"/>
<rect x="503" y="394" width="3" height="1.5" fill="#ff0505"/>
<rect x="507" y="394" width="3" height="1.7" fill="#ff0505"/>
<rect x="512" y="394" width="3" height="0.8" fill="#ff0505"/>
<rect x="516" y="394" width="3" height="0.6" fill="#ff0505"/>
<rect x="521" y="394.4" width="3" height="0.6" fill="#0aee0a"/>
<rect x="525" y="394.2" width="3" height="0.8" fill="#0aee0a"/>
<rect x="529" y="394.3" width="3" height="0.7" fill="#0aee0a"/>
<rect x="534" y="394" width="3" height="0.6" fill="#ff0505"/>
<rect x="538" y="394" width="3" height="1.5" fill="#ff0505"/>
<rect x="543" y="394" width="3" height="2.0" fill="#ff0505"/>
<rect x="547" y="394" width="3" height="2.3" fill="#ff0505"/>
<rect x="552" y="394" width="3" height="2.5" fill="#ff0505"/>
<rect x="556" y="394" width="3" height="5.0" fill="#ff0505"/>
<rect x="560" y="394" width="3" height="7.5" fill="#ff0505"/>
<rect x="565" y="394" width="3" height="8.3" fill="#ff0505"/>
<rect x="569" y="394" width="3" height="9.1" fill="#ff0505"/>
<rect x="574" y="394" width="3" height="9.1" fill="#ff0505"/>
<rect x="578" y="394" width="3" height="7.8" fill="#ff0505"/>
<rect x="583" y="394" width="3" height="6.6" fill="#ff0505"/>
<rect x="587" y="394" width="3" height="5.0" fill="#ff0505"/>
<rect x="591" y="394" width="3" height="4.0" fill="#ff0505"/>
<rect x="596" y="394" width="3" height="3.3" fill="#ff0505"/>
<rect x="600" y="394" width="3" height="3.3" fill="#ff0505"/>
<rect x="605" y="394" width="3" height="3.7" fill="#ff0505"/>
<rect x="609" y="394" width="3" height="4.0" fill="#ff0505"/>
<rect x="614" y="394" width="3" height="2.5" fill="#ff0505"/>
<rect x="618" y="394" width="3" height="1.3" fill="#ff0505"/>
<rect x="622" y="394" width="3" height="0.7" fill="#ff0505"/>
<rect x="627" y="394" width="3" height="0.6" fill="#ff0505"/>
<rect x="631" y="394" width="3" height="1.2" fill="#ff0505"/>
<rect x="636" y="394" width="3" height="1.5" fill="#ff0505"/>
<rect x="640" y="394" width="3" height="2.2" fill="#ff0505"/>
<rect x="644" y="394" width="3" height="2.5" fill="#ff0505"/>
<rect x="649" y="394" width="3" height="2.5" fill="#ff0505"/>
<rect x="653" y="394" width="3" height="3.0" fill="#ff0505"/>
<rect x="658" y="394" width="3" height="4.3" fill="#ff0505"/>
<rect x="662" y="394" width="3" height="5.5" fill="#ff0505"/>
<rect x="667" y="394" width="3" height="6.8" fill="#ff0505"/>
<rect x="671" y="394" width="3" height="7.3" fill="#ff0505"/>
<rect x="675" y="394" width="3" height="6.5" fill="#ff0505"/>
<rect x="680" y="394" width="3" height="5.5" fill="#ff0505"/>
<rect x="684" y="394" width="3" height="4.6" fill="#ff0505"/>
<rect x="689" y="394" width="3" height="3.3" fill="#ff0505"/>
<rect x="693" y="394" width="3" height="2.2" fill="#ff0505"/>
<rect x="698" y="394" width="3" height="1.3" fill="#ff0505"/>
<rect x="702" y="394.4" width="3" height="0.6" fill="#0aee0a"/>
<rect x="706" y="394.4" width="3" height="0.6" fill="#0aee0a"/>
<rect x="711" y="394.0" width="3" height="1.0" fill="#0aee0a"/>
<rect x="715" y="393.5" width="3" height="1.5" fill="#0aee0a"/>
<rect x="720" y="394.4" width="3" height="0.6" fill="#0aee0a"/>
<rect x="724" y="394" width="3" height="0.6" fill="#ff0505"/>
<rect x="729" y="394" width="3" height="0.6" fill="#ff0505"/>
<rect x="733" y="394" width="3" height="1.0" fill="#ff0505"/>
<rect x="737" y="394" width="3" height="0.6" fill="#ff0505"/>
<rect x="742" y="394" width="3" height="0.6" fill="#ff0505"/>
<rect x="746" y="394.4" width="3" height="0.6" fill="#0aee0a"/>
<rect x="751" y="393.0" width="3" height="2.0" fill="#0aee0a"/>
<rect x="755" y="392.0" width="3" height="3.0" fill="#0aee0a"/>
<rect x="760" y="390.0" width="3" height="5.0" fill="#0aee0a"/>
<rect x="764" y="388.0" width="3" height="7.0" fill="#0aee0a"/>
<rect x="768" y="386.4" width="3" height="8.6" fill="#0aee0a"/>
<rect x="773" y="386.7" width="3" height="8.3" fill="#0aee0a"/>
<rect x="777" y="388.7" width="3" height="6.3" fill="#0aee0a"/>
<rect x="782" y="390.4" width="3" height="4.6" fill="#0aee0a"/>
<rect x="786" y="391.7" width="3" height="3.3" fill="#0aee0a"/>
<rect x="790" y="393.3" width="3" height="1.7" fill="#0aee0a"/>
<rect x="795" y="394.4" width="3" height="0.6" fill="#0aee0a"/>
<rect x="799" y="394" width="3" height="1.2" fill="#ff0505"/>
<rect x="804" y="394" width="3" height="2.5" fill="#ff0505"/>
<rect x="808" y="394" width="3" height="4.5" fill="#ff0505"/>
<rect x="813" y="394" width="3" height="5.3" fill="#ff0505"/>
<rect x="817" y="394" width="3" height="5.6" fill="#ff0505"/>
<rect x="821" y="394" width="3" height="5.6" fill="#ff0505"/>
<rect x="826" y="394" width="3" height="4.6" fill="#ff0505"/>
<rect x="830" y="394" width="3" height="2.8" fill="#ff0505"/>
<rect x="835" y="394" width="3" height="1.7" fill="#ff0505"/>
<rect x="839" y="394" width="3" height="0.8" fill="#ff0505"/>
<rect x="844" y="394" width="3" height="0.6" fill="#ff0505"/>
<rect x="848" y="394.4" width="3" height="0.6" fill="#0aee0a"/>
<rect x="852" y="394.0" width="3" height="1.0" fill="#0aee0a"/>
<rect x="857" y="393.3" width="3" height="1.7" fill="#0aee0a"/>
<rect x="861" y="391.5" width="3" height="3.5" fill="#0aee0a"/>
<rect x="866" y="388.7" width="3" height="6.3" fill="#0aee0a"/>
<rect x="870" y="387.0" width="3" height="8.0" fill="#0aee0a"/>
<rect x="875" y="386.7" width="3" height="8.3" fill="#0aee0a"/>
<rect x="879" y="386.7" width="3" height="8.3" fill="#0aee0a"/>
<rect x="883" y="389.5" width="3" height="5.5" fill="#0aee0a"/>
<rect x="888" y="391.0" width="3" height="4.0" fill="#0aee0a"/>
<rect x="892" y="392.5" width="3" height="2.5" fill="#0aee0a"/>
<rect x="897" y="393.5" width="3" height="1.5" fill="#0aee0a"/>
<rect x="901" y="394.3" width="3" height="0.7" fill="#0aee0a"/>
<rect x="906" y="394.0" width="3" height="1.0" fill="#0aee0a"/>
<rect x="910" y="393.5" width="3" height="1.5" fill="#0aee0a"/>
<rect x="914" y="393.7" width="3" height="1.3" fill="#0aee0a"/>
<rect x="919" y="393.7" width="3" height="1.3" fill="#0aee0a"/>
<rect x="923" y="393.7" width="3" height="1.3" fill="#0aee0a"/>
<rect x="928" y="394.4" width="3" height="0.6" fill="#0aee0a"/>
<rect x="932" y="394" width="3" height="0.6" fill="#ff0505"/>
<rect x="936" y="394" width="3" height="2.0" fill="#ff0505"/>
<rect x="941" y="394" width="3" height="3.0" fill="#ff0505"/>
<rect x="945" y="394" width="3" height="4.0" fill="#ff0505"/>
<rect x="950" y="394" width="3" height="4.3" fill="#ff0505"/>
<rect x="954" y="394" width="3" height="3.3" fill="#ff0505"/>
<rect x="959" y="394" width="3" height="2.7" fill="#ff0505"/>
<rect x="963" y="394" width="3" height="2.3" fill="#ff0505"/>
<rect x="967" y="394" width="3" height="3.6" fill="#ff0505"/>
<rect x="972" y="394" width="3" height="5.0" fill="#ff0505"/>
<rect x="976" y="394" width="3" height="5.5" fill="#ff0505"/>
<rect x="981" y="394" width="3" height="5.3" fill="#ff0505"/>
</g>
<polyline points="0.0,406.8 9.9,405.1 19.9,403.5 29.8,401.8 39.8,401.5 49.7,402.2 59.7,401.5 69.6,399.3 79.5,396.5 89.5,392.7 99.4,388.6 109.4,386.1 119.3,384.9 129.2,384.4 139.2,386.1 149.1,389.4 159.1,393.5 169.0,397.7 179.0,401.0 188.9,403.2 197.2,403.8 200.0,403.5 209.9,401.5 219.9,400.2 229.8,398.2 239.8,396.5 249.7,395.7 259.7,396.5 269.6,397.2 279.5,397.2 289.5,396.5 299.4,396.0 309.4,396.5 319.3,397.2 329.2,397.7 339.2,397.7 349.1,397.7 359.1,397.2 369.0,396.0 379.0,394.9 388.9,393.5 398.8,392.0 400.0,391.6 409.9,389.4 419.9,387.2 429.8,385.6 439.8,383.9 449.7,382.3 459.7,381.1 469.6,379.5 479.5,378.3 489.5,377.5 499.4,378.6 509.4,379.5 519.3,379.5 529.2,379.0 539.2,379.0 549.1,380.6 555.8,382.3 562.4,385.3 569.0,388.6 575.6,391.9 582.3,394.9 588.9,396.9 595.5,398.5 598.8,399.2 600.0,399.3 609.9,401.8 619.9,402.7 629.8,402.7 639.8,403.8 649.7,405.1 659.7,407.6 669.6,411.8 679.5,414.8 689.5,416.7 699.4,417.6 709.4,417.1 719.3,416.4 729.2,416.7 739.2,416.7 749.1,415.9 759.1,413.4 769.0,409.3 779.0,405.1 788.9,403.2 795.5,402.7 798.8,403.0 800.0,403.2 809.9,406.0 819.9,408.8 829.8,410.9 839.8,411.8 849.7,411.4 859.7,410.1 866.3,408.1 872.9,405.1 879.5,402.2 886.2,400.2 892.8,398.8 902.7,398.0 912.7,397.2 922.6,396.5 930.9,396.5 939.2,397.7 949.1,400.2 957.4,401.8 965.7,403.2 974.0,405.1 981.9,407.3" fill="none" stroke="#f5821f" stroke-width="1.05" stroke-linejoin="round"/>
<polyline points="0.0,406.0 6.6,404.8 16.6,400.5 24.9,398.5 33.1,400.2 43.1,402.2 53.0,402.7 63.0,400.2 71.3,394.4 79.5,390.2 89.5,384.9 99.4,382.3 107.7,382.3 116.0,383.3 127.6,383.6 137.5,388.6 147.5,393.5 157.4,399.3 167.4,404.3 174.0,406.8 182.3,407.3 190.6,406.0 197.2,404.3 200.0,402.7 208.3,399.3 219.9,397.7 226.5,394.9 238.1,393.2 246.4,393.9 254.7,396.5 263.0,397.2 271.3,398.2 279.5,397.2 289.5,395.5 299.4,395.7 306.0,395.7 314.3,397.7 322.6,398.2 332.6,398.2 340.8,397.7 349.1,397.7 357.4,396.5 365.7,394.9 375.6,393.5 383.9,392.7 392.2,389.4 398.8,387.2 400.0,387.7 409.9,386.6 416.6,383.9 429.8,382.8 441.4,382.3 449.7,379.5 463.0,378.3 472.9,375.6 479.5,375.3 489.5,377.0 496.1,378.3 502.7,380.6 509.4,381.1 516.0,380.0 525.9,378.3 530.9,378.3 539.2,381.1 545.8,382.8 552.4,384.4 559.1,389.4 565.7,395.2 572.3,399.3 579.0,401.8 583.9,402.7 590.6,402.2 598.8,402.7 600.0,402.7 609.9,405.5 618.2,404.3 628.2,403.2 638.1,406.0 649.7,407.6 656.3,410.1 666.3,416.4 674.6,419.7 684.5,420.9 692.8,420.1 699.4,418.4 706.0,416.7 716.0,415.4 722.6,416.7 732.6,418.1 740.8,417.1 747.5,415.9 755.8,411.8 762.4,406.8 769.0,401.0 774.0,399.0 780.6,399.3 787.2,399.8 793.9,401.8 798.8,403.8 800.0,404.3 809.9,410.4 818.2,413.4 823.2,415.1 828.2,414.8 833.1,413.4 843.1,412.1 851.4,409.8 858.0,408.5 863.0,405.1 869.6,399.3 874.6,396.0 879.5,393.9 886.2,394.9 894.4,396.5 902.7,397.7 911.0,396.0 919.3,395.5 927.6,396.0 932.6,397.7 940.8,401.0 950.8,404.6 957.4,404.3 964.0,404.8 972.3,409.3 978.1,411.8 981.9,412.6" fill="none" stroke="#2a4cf0" stroke-width="1.05" stroke-linejoin="round"/>
</g>
<clipPath id="c3"><rect x="0" y="432" width="1136" height="68"/></clipPath>
<g clip-path="url(#c3)">
<g shape-rendering="crispEdges">
<rect x="1" y="433" width="982" height="20" fill="#7cf87c"/>
<rect x="1" y="479" width="982" height="21" fill="#f87c7c"/>
<rect x="238" y="433" width="1" height="20" fill="#74e874"/>
<rect x="238" y="479" width="1" height="21" fill="#ea7474"/>
<rect x="787" y="433" width="1" height="20" fill="#74e874"/>
<rect x="787" y="479" width="1" height="21" fill="#ea7474"/>
<rect x="982" y="433" width="1" height="20" fill="#111"/>
<rect x="982" y="479" width="1" height="21" fill="#111"/>
</g>
<line x1="1" y1="452.5" x2="983" y2="452.5" stroke="#1a1a1a" stroke-width="1" stroke-dasharray="3 1" shape-rendering="crispEdges"/>
<line x1="1" y1="479.5" x2="983" y2="479.5" stroke="#1a1a1a" stroke-width="1" stroke-dasharray="3 1" shape-rendering="crispEdges"/>
<polyline points="0.0,470.8 4.1,470.3 9.1,466.1 16.6,465.8 21.5,465.3 26.5,466.9 31.5,470.3 35.6,473.9 39.8,471.4 43.9,472.4 48.9,470.8 53.0,471.4 58.0,465.8 62.1,466.4 66.3,458.7 70.4,458.7 75.4,463.1 79.5,461.1 84.5,455.3 89.5,454.5 94.4,456.2 99.4,457.0 102.7,456.5 106.9,460.3 110.2,461.1 114.3,459.5 119.3,461.1 123.4,459.2 127.6,459.8 132.6,466.1 137.5,471.9 141.7,473.1 145.8,469.4 150.0,475.7 154.1,473.1 159.1,472.4 163.2,474.1 168.2,477.7 172.3,474.1 177.3,471.9 181.4,472.7 185.6,469.4 190.6,470.3 194.7,468.6 200.0,463.1 203.3,464.5 207.5,464.5 212.4,468.6 216.6,466.1 220.7,466.1 225.7,460.8 230.7,464.5 234.8,464.1 238.9,463.1 243.9,467.4 248.1,468.1 256.3,470.8 261.3,468.6 265.5,469.1 269.6,471.9 274.6,466.1 278.7,466.4 283.7,463.6 290.3,464.5 297.8,467.4 305.2,467.4 310.2,471.4 317.6,471.4 323.4,468.6 328.4,470.3 331.7,470.3 336.7,465.3 340.8,467.4 349.1,469.4 354.1,466.1 359.1,462.5 363.2,460.3 367.4,462.0 371.5,461.5 376.5,463.3 380.6,462.5 384.8,461.1 389.7,455.8 394.7,453.7 398.0,452.5 400.0,454.2 406.6,457.8 411.6,455.8 415.7,449.2 420.7,457.5 424.9,456.5 429.8,457.5 433.1,454.5 438.9,458.7 443.1,457.0 447.2,452.5 451.4,453.2 455.5,455.8 460.5,454.2 464.6,453.7 469.6,450.9 473.7,450.4 477.9,452.9 482.0,453.7 486.2,456.5 491.1,455.3 495.3,454.8 499.8,462.8 504.4,460.3 508.5,459.5 513.5,454.2 517.6,455.3 522.6,452.9 527.6,453.2 530.9,455.3 535.9,462.5 540.0,463.1 544.2,462.1 548.3,462.8 552.4,461.8 557.4,472.7 561.6,476.4 565.7,475.7 570.7,477.4 574.0,477.4 579.8,472.4 583.9,472.4 588.9,468.3 593.0,469.1 597.2,471.4 600.0,471.9 606.6,476.4 610.8,476.1 615.7,469.1 623.2,469.8 628.2,469.1 632.8,475.7 636.8,473.2 642.3,476.1 646.4,476.4 650.5,475.7 657.2,480.2 663.0,483.0 667.9,485.7 672.9,484.0 677.1,483.0 682.0,480.7 685.3,482.3 690.3,477.4 694.4,478.0 699.1,478.5 703.6,474.4 707.7,477.4 712.7,477.7 716.8,475.7 721.8,481.0 725.9,479.7 730.1,480.2 734.2,481.9 738.9,477.4 743.3,476.4 747.5,476.9 752.4,470.3 756.6,470.3 760.7,465.3 765.7,459.2 769.3,458.7 774.0,463.6 779.0,469.4 787.2,469.1 792.2,472.4 796.4,474.4 800.0,476.4 805.0,478.5 809.9,480.7 814.1,480.0 818.2,480.2 822.4,481.7 826.5,477.4 831.5,472.1 836.1,473.9 840.6,472.7 844.7,474.4 849.7,470.8 853.9,471.6 858.0,471.6 863.0,463.6 867.1,459.8 871.3,457.5 875.9,460.5 880.4,459.8 884.8,469.1 889.5,467.8 893.6,469.4 897.8,467.8 901.9,469.1 906.9,465.3 911.0,463.6 916.0,466.4 921.0,465.0 925.1,466.4 929.2,469.1 933.4,471.1 938.4,474.4 942.2,473.6 946.6,476.4 950.8,475.7 955.4,470.4 959.9,472.1 964.0,471.6 969.0,476.4 973.2,478.9 978.1,479.4 981.9,477.2" fill="none" stroke="#2a4cf0" stroke-width="1.1" stroke-linejoin="round"/>
</g>
<rect x="0" y="433" width="1.4" height="20" fill="#111"/>
<rect x="0" y="479" width="1.4" height="21" fill="#111"/>
<g shape-rendering="crispEdges" fill="#666">
<rect x="558" y="368" width="20" height="1"/>
<rect x="558" y="370" width="20" height="1"/>
<rect x="558" y="372" width="20" height="1"/>
<rect x="558" y="425" width="20" height="1"/>
<rect x="558" y="427" width="20" height="1"/>
<rect x="558" y="429" width="20" height="1"/>
</g>
<g font-size="11" fill="#555">
<g shape-rendering="crispEdges">
<rect x="1137" y="11" width="5" height="1" fill="#999"/>
<rect x="1137" y="47" width="5" height="1" fill="#999"/>
<rect x="1137" y="83" width="5" height="1" fill="#999"/>
<rect x="1137" y="120" width="5" height="1" fill="#999"/>
<rect x="1137" y="156" width="5" height="1" fill="#999"/>
<rect x="1137" y="192" width="5" height="1" fill="#999"/>
<rect x="1137" y="229" width="5" height="1" fill="#999"/>
<rect x="1137" y="265" width="5" height="1" fill="#999"/>
<rect x="1137" y="301" width="5" height="1" fill="#999"/>
<rect x="1137" y="337" width="5" height="1" fill="#999"/>
<rect x="1137" y="394" width="5" height="1" fill="#999"/>
<rect x="1137" y="466" width="5" height="1" fill="#999"/>
<rect x="1137" y="499" width="5" height="1" fill="#999"/>
</g>
<text x="1144" y="14.5">2,000.00</text>
<text x="1144" y="50.5">1,980.00</text>
<text x="1144" y="86.5">1,960.00</text>
<text x="1144" y="123.5">1,940.00</text>
<text x="1144" y="159.5">1,920.00</text>
<text x="1144" y="195.5">1,900.00</text>
<text x="1144" y="232.5">1,880.00</text>
<text x="1144" y="268.5">1,860.00</text>
<text x="1144" y="340.5">1,820.00</text>
<text x="1144" y="398.4">-0.00</text>
<text x="1144" y="470.1">50.00</text>
<text x="1144" y="502.7">0.00</text>
<g shape-rendering="crispEdges">
<rect x="0" y="501" width="1" height="2" fill="#777"/>
<rect x="53" y="501" width="1" height="2" fill="#777"/>
<rect x="79" y="501" width="1" height="2" fill="#777"/>
<rect x="106" y="501" width="1" height="2" fill="#777"/>
<rect x="132" y="501" width="1" height="2" fill="#777"/>
<rect x="159" y="501" width="1" height="2" fill="#777"/>
<rect x="185" y="501" width="1" height="2" fill="#777"/>
<rect x="212" y="501" width="1" height="2" fill="#777"/>
<rect x="238" y="501" width="1" height="2" fill="#777"/>
<rect x="265" y="501" width="1" height="2" fill="#777"/>
<rect x="292" y="501" width="1" height="2" fill="#777"/>
<rect x="318" y="501" width="1" height="2" fill="#777"/>
<rect x="345" y="501" width="1" height="2" fill="#777"/>
<rect x="371" y="501" width="1" height="2" fill="#777"/>
<rect x="398" y="501" width="1" height="2" fill="#777"/>
<rect x="424" y="501" width="1" height="2" fill="#777"/>
<rect x="451" y="501" width="1" height="2" fill="#777"/>
<rect x="477" y="501" width="1" height="2" fill="#777"/>
<rect x="504" y="501" width="1" height="2" fill="#777"/>
<rect x="530" y="501" width="1" height="2" fill="#777"/>
<rect x="557" y="501" width="1" height="2" fill="#777"/>
<rect x="584" y="501" width="1" height="2" fill="#777"/>
<rect x="610" y="501" width="1" height="2" fill="#777"/>
<rect x="637" y="501" width="1" height="2" fill="#777"/>
<rect x="663" y="501" width="1" height="2" fill="#777"/>
<rect x="690" y="501" width="1" height="2" fill="#777"/>
<rect x="716" y="501" width="1" height="2" fill="#777"/>
<rect x="743" y="501" width="1" height="2" fill="#777"/>
<rect x="787" y="501" width="1" height="2" fill="#777"/>
<rect x="814" y="501" width="1" height="2" fill="#777"/>
<rect x="840" y="501" width="1" height="2" fill="#777"/>
<rect x="867" y="501" width="1" height="2" fill="#777"/>
<rect x="893" y="501" width="1" height="2" fill="#777"/>
<rect x="920" y="501" width="1" height="2" fill="#777"/>
<rect x="946" y="501" width="1" height="2" fill="#777"/>
<rect x="973" y="501" width="1" height="2" fill="#777"/>
<rect x="999" y="501" width="1" height="2" fill="#777"/>
<rect x="1026" y="501" width="1" height="2" fill="#777"/>
<rect x="1053" y="501" width="1" height="2" fill="#777"/>
<rect x="1079" y="501" width="1" height="2" fill="#777"/>
<rect x="1106" y="501" width="1" height="2" fill="#777"/>
<rect x="1132" y="501" width="1" height="2" fill="#777"/>
</g>
<text x="0" y="516.7">Mar</text>
<text x="53.5" y="516.7" text-anchor="middle">23</text>
<text x="79.5" y="516.7" text-anchor="middle">24</text>
<text x="106.5" y="516.7" text-anchor="middle">25</text>
<text x="132.5" y="516.7" text-anchor="middle">28</text>
<text x="159.5" y="516.7" text-anchor="middle">29</text>
<text x="185.5" y="516.7" text-anchor="middle">30</text>
<text x="212.5" y="516.7" text-anchor="middle">31</text>
<text x="238.5" y="516.7" text-anchor="middle">Apr</text>
<text x="265.5" y="516.7" text-anchor="middle">3</text>
<text x="292.5" y="516.7" text-anchor="middle">4</text>
<text x="318.5" y="516.7" text-anchor="middle">5</text>
<text x="345.5" y="516.7" text-anchor="middle">6</text>
<text x="371.5" y="516.7" text-anchor="middle">7</text>
<text x="398.5" y="516.7" text-anchor="middle">8</text>
<text x="424.5" y="516.7" text-anchor="middle">11</text>
<text x="451.5" y="516.7" text-anchor="middle">12</text>
<text x="477.5" y="516.7" text-anchor="middle">13</text>
<text x="504.5" y="516.7" text-anchor="middle">14</text>
<text x="530.5" y="516.7" text-anchor="middle">18</text>
<text x="557.5" y="516.7" text-anchor="middle">19</text>
<text x="584.5" y="516.7" text-anchor="middle">20</text>
<text x="610.5" y="516.7" text-anchor="middle">21</text>
<text x="637.5" y="516.7" text-anchor="middle">22</text>
<text x="663.5" y="516.7" text-anchor="middle">25</text>
<text x="690.5" y="516.7" text-anchor="middle">26</text>
<text x="716.5" y="516.7" text-anchor="middle">27</text>
<text x="743.5" y="516.7" text-anchor="middle">28</text>
<text x="787.5" y="516.7" text-anchor="middle">May</text>
<text x="814.5" y="516.7" text-anchor="middle">2</text>
<text x="840.5" y="516.7" text-anchor="middle">3</text>
<text x="867.5" y="516.7" text-anchor="middle">4</text>
<text x="893.5" y="516.7" text-anchor="middle">5</text>
<text x="920.5" y="516.7" text-anchor="middle">6</text>
<text x="946.5" y="516.7" text-anchor="middle">9</text>
<text x="973.5" y="516.7" text-anchor="middle">10</text>
<text x="999.5" y="516.7" text-anchor="middle">11</text>
<text x="1026.5" y="516.7" text-anchor="middle">12</text>
<text x="1053.5" y="516.7" text-anchor="middle">13</text>
<text x="1079.5" y="516.7" text-anchor="middle">15</text>
<text x="1106.5" y="516.7" text-anchor="middle">16</text>
<text x="1132.5" y="516.7" text-anchor="middle">17</text>
</g>
<path d="M1137 305.5 L1140 302 L1140 300 Q1140 298 1142 298 L1189.5 298 Q1191.5 298 1191.5 300 L1191.5 311.5 Q1191.5 313.5 1189.5 313.5 L1142 313.5 Q1140 313.5 1140 311.5 L1140 309 Z" fill="#2e4b78"/>
<text x="1145.5" y="309.7" font-size="11" font-weight="bold" fill="#fff">1,837.92</text>
<rect x="5" y="5" width="78" height="21" fill="#606060"/>
<rect x="5" y="5" width="2" height="21" fill="#2b8270"/>
<text x="15.8" y="19.9" font-size="11" font-weight="bold" fill="#fff">XAU/USD</text>
<rect x="5" y="32" width="90" height="21" fill="#606060"/>
<rect x="5" y="32" width="2" height="21" fill="#3cb043"/>
<text x="15.8" y="46.3" font-size="11" font-weight="bold" fill="#fff">SMA (200,0)</text>
<rect x="5" y="379" width="109" height="21" fill="#000" fill-opacity="0.61"/>
<rect x="5" y="379" width="2" height="21" fill="#1f1fff"/>
<text x="15.8" y="393.3" font-size="11" font-weight="bold" fill="#fff">MACD (12,26,9)</text>
<rect x="5" y="436" width="109.5" height="20.5" fill="#000" fill-opacity="0.61"/>
<rect x="5" y="436" width="2" height="20.5" fill="#12e012"/>
<text x="15.8" y="450.4" font-size="11" font-weight="bold" fill="#fff">RSI (14,70,30,1)</text>
</svg>
</body></html>
